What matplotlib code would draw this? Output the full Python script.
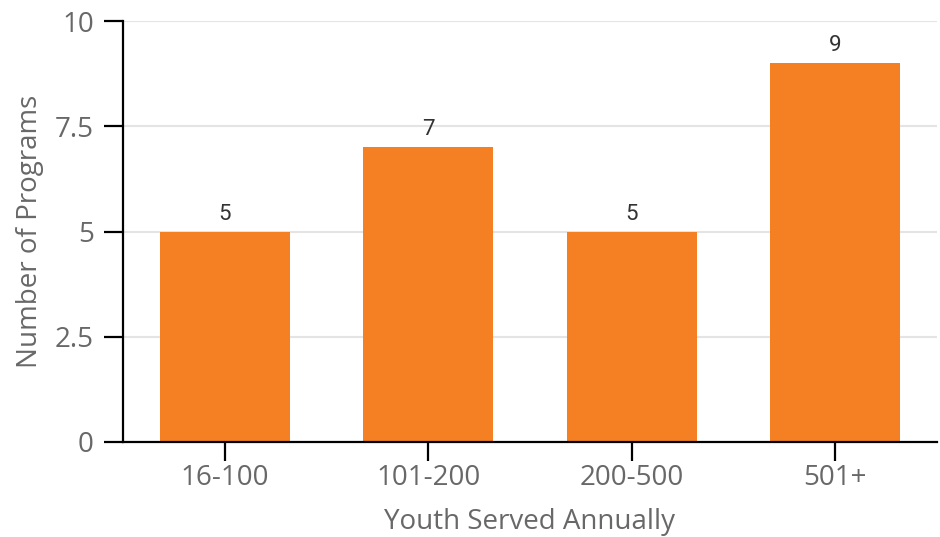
import matplotlib
matplotlib.use("Agg")
import matplotlib.pyplot as plt

# data
categories = ["16-100", "101-200", "200-500", "501+"]
programs = [5, 7, 5, 9]
y_ticks = [0, 2.5, 5, 7.5, 10]
y_tick_labels = ["0", "2.5", "5", "7.5", "10"]

plt.rcParams["font.family"] = ["Open Sans", "DejaVu Sans"]

fig = plt.figure(figsize=(9.4, 5.37), dpi=100)
ax = fig.add_axes([123 / 940, 95 / 537, 814 / 940, 421 / 537])

x = list(range(len(categories)))
bars = ax.bar(x, programs, width=0.64, color="#F58024", zorder=2)

# value labels above bars
for rect, val in zip(bars, programs):
    ax.annotate(str(val), (rect.get_x() + rect.get_width() / 2, rect.get_height()),
                xytext=(0, 5), textcoords="offset points", ha="center", va="bottom",
                fontsize=16, color="#333333", family=["Roboto", "DejaVu Sans"])

ax.set_xlim(-0.5, 3.5)
ax.set_ylim(0, 10)
ax.set_xticks(x)
ax.set_xticklabels(categories)
ax.set_yticks(y_ticks)
ax.set_yticklabels(y_tick_labels)

ax.grid(axis="y", color="#E4E4E4", linewidth=1.5, zorder=0)
ax.set_axisbelow(True)

for side in ["top", "right"]:
    ax.spines[side].set_visible(False)
for side in ["left", "bottom"]:
    ax.spines[side].set_linewidth(1.6)
    ax.spines[side].set_color("black")

ax.tick_params(axis="both", length=14, width=1.6, color="black",
               labelsize=20, labelcolor="#686868")
ax.tick_params(axis="x", pad=2)
ax.tick_params(axis="y", pad=7)

ax.set_xlabel("Youth Served Annually", fontsize=20, color="#686868", labelpad=11)
ax.set_ylabel("Number of Programs", fontsize=20, color="#686868", labelpad=8)

fig.savefig("out.png", dpi=100)
